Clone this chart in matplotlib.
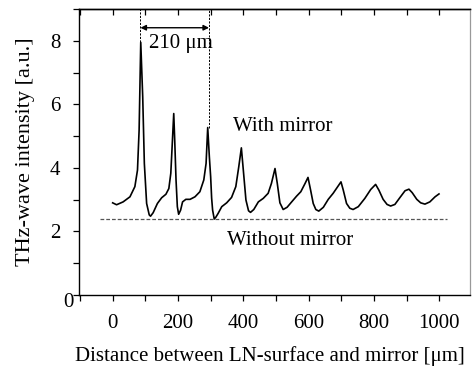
import matplotlib
matplotlib.use("Agg")
import matplotlib.pyplot as plt
import matplotlib.transforms as mtransforms
from matplotlib.ticker import MultipleLocator

plt.rcParams["font.family"] = ["Liberation Serif", "DejaVu Serif"]
plt.rcParams["font.size"] = 15

# THz-wave intensity vs. LN-surface / mirror distance (with mirror)
distance_um = [0, 12, 32, 53, 68, 76, 81, 86, 92, 97, 104, 112, 116, 124, 137,
               150, 163, 172, 178, 182, 187, 190, 194, 198, 202, 208, 214, 224,
               237, 252, 267, 279, 286, 291, 296, 300, 303, 306, 311, 316, 323,
               334, 349, 364, 377, 386, 394, 400, 408, 416, 422, 432, 446, 461,
               476, 486, 497, 504, 512, 522, 534, 548, 563, 576, 589, 598, 606,
               614, 622, 631, 645, 660, 675, 689, 699, 706, 716, 726, 736, 752,
               772, 790, 805, 815, 828, 840, 851, 864, 879, 895, 907, 917, 931,
               943, 956, 971, 987, 999]
intensity_mirror = [2.90, 2.84, 2.93, 3.09, 3.41, 3.93, 5.19, 7.95, 6.24, 4.14,
                    2.88, 2.52, 2.48, 2.59, 2.88, 3.06, 3.17, 3.35, 3.83, 4.66,
                    5.71, 4.87, 3.62, 2.78, 2.54, 2.67, 2.93, 3.01, 3.01, 3.09,
                    3.25, 3.62, 4.14, 5.27, 4.35, 3.72, 3.05, 2.67, 2.39, 2.45,
                    2.57, 2.78, 2.90, 3.07, 3.41, 4.03, 4.63, 3.93, 2.99, 2.65,
                    2.60, 2.69, 2.93, 3.04, 3.20, 3.51, 3.98, 3.51, 2.90, 2.69,
                    2.76, 2.93, 3.11, 3.25, 3.51, 3.70, 3.30, 2.88, 2.69, 2.64,
                    2.76, 3.01, 3.20, 3.41, 3.56, 3.30, 2.88, 2.73, 2.69, 2.78,
                    3.04, 3.32, 3.48, 3.30, 3.01, 2.85, 2.80, 2.85, 3.06, 3.28,
                    3.33, 3.22, 3.01, 2.90, 2.86, 2.93, 3.09, 3.18]

# Level without mirror
without_mirror_level = 2.38
without_mirror_span = [-40, 1025]

# Peak spacing marker
spacing_start = 85
spacing_um = 210
spacing_peak_heights = [7.95, 5.27]

x_ticks = [0, 200, 400, 600, 800, 1000]
y_ticks = [0, 2, 4, 6, 8]

fig = plt.figure(figsize=(4.72, 3.67), dpi=100)
ax = fig.add_axes([0.1674, 0.1962, 0.8284, 0.7793])

ax.plot(distance_um, intensity_mirror, color="black", lw=1.2,
        solid_joinstyle="round")
ax.plot(without_mirror_span, [without_mirror_level] * 2, color="#555555",
        lw=0.9, dashes=(3, 1.6))

x_lines = [spacing_start, spacing_start + spacing_um]
for xv, yp in zip(x_lines, spacing_peak_heights):
    ax.plot([xv, xv], [yp, 9.0], color="black", lw=0.7, dashes=(2.2, 1.4))

ax.annotate("", xy=(x_lines[0], 8.41), xytext=(x_lines[1], 8.41),
            arrowprops=dict(arrowstyle="<|-|>", color="black", lw=1.0,
                            mutation_scale=8, shrinkA=0, shrinkB=0))
ax.text(111, 7.92, f"{spacing_um} μm", ha="left", va="center")
ax.text(368, 5.31, "With mirror", ha="left", va="center")
ax.text(351, 1.73, "Without mirror", ha="left", va="center")

ax.set_xlim(-103, 1094)
ax.set_ylim(0, 9)
ax.set_xticks(x_ticks)
ax.set_yticks(y_ticks)
ax.xaxis.set_minor_locator(MultipleLocator(100))
ax.yaxis.set_minor_locator(MultipleLocator(1))

ax.tick_params(axis="x", which="both", direction="out", length=4.3, width=0.9,
               pad=9.5, top=False)
ax.tick_params(axis="y", which="both", direction="out", length=4.3, width=0.9,
               pad=9, right=False)

# inward ticks along the top edge
top = ax.secondary_xaxis("top")
top.set_xticks(x_ticks)
top.xaxis.set_minor_locator(MultipleLocator(100))
top.tick_params(axis="x", which="both", direction="in", length=4.3, width=0.9,
                labeltop=False)
top.spines["top"].set_linewidth(1.0)

for side in ["left", "bottom"]:
    ax.spines[side].set_linewidth(1.0)
ax.spines["top"].set_linewidth(1.0)
ax.spines["right"].set_color("#999999")
ax.spines["right"].set_linewidth(0.9)

# nudge the "0" of the y axis toward the corner
fig.canvas.draw()
ylabels = ax.get_yticklabels()
offset = mtransforms.ScaledTranslation(9.5 / 72, -3.6 / 72, fig.dpi_scale_trans)
ylabels[0].set_transform(ylabels[0].get_transform() + offset)

ax.set_xlabel("Distance between LN-surface and mirror [μm]")
ax.set_ylabel("THz-wave intensity [a.u.]", fontsize=16)
ax.xaxis.set_label_coords(0.489, -0.178)
ax.yaxis.set_label_coords(-0.1125, 0.5)

fig.savefig("out.png", dpi=100)
